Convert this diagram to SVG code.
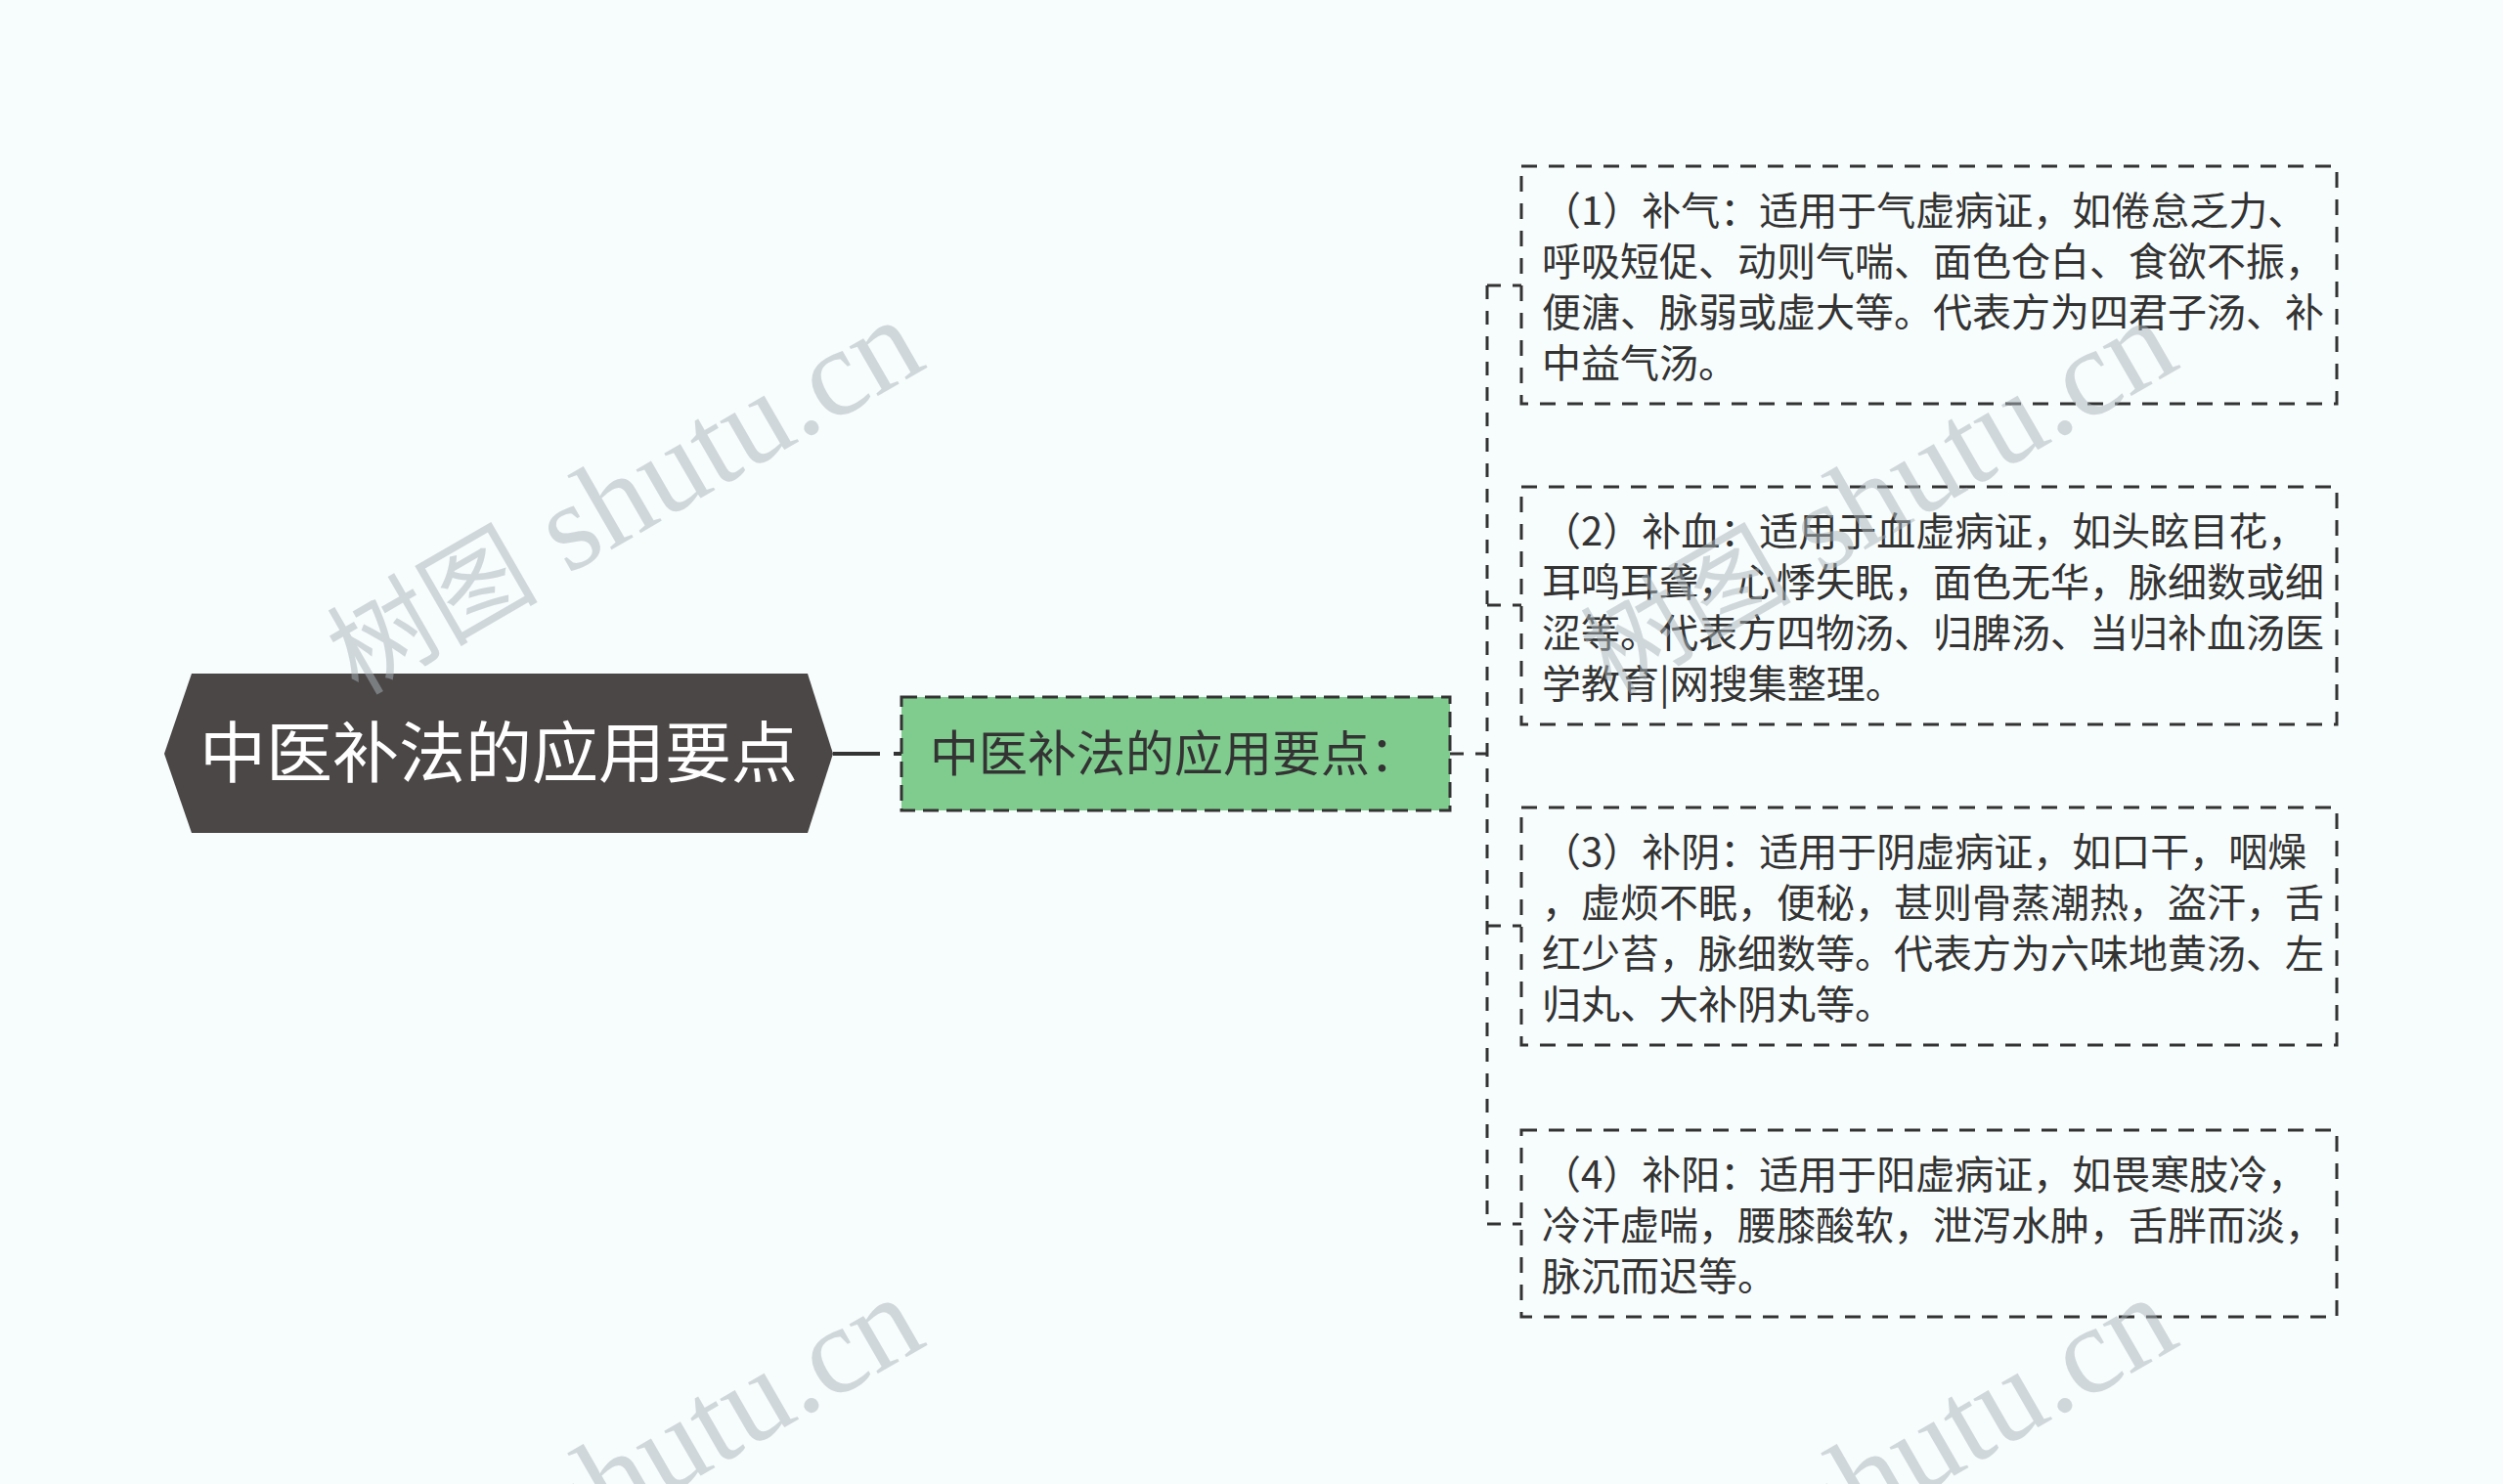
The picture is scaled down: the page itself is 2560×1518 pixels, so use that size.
<svg xmlns="http://www.w3.org/2000/svg" width="2560" height="1518" viewBox="0 0 2560 1518">
<style>
.bg{fill:#f7fcfc}
.root{fill:#4b4747}
.rootText{font-family:"Noto Sans CJK SC","Noto Sans",sans-serif;font-size:68px;fill:#ffffff}
.mid{fill:#80cc8f;stroke:#333333;stroke-width:3;stroke-dasharray:16 8}
.midText{font-family:"Noto Sans CJK SC","Noto Sans",sans-serif;font-size:50px;fill:#333333}
.box{fill:none;stroke:#333333;stroke-width:3;stroke-dasharray:16 12}
.boxText{font-family:"Noto Sans CJK SC","Noto Sans",sans-serif;font-size:40px;fill:#333333}
.conn{fill:none;stroke:#333333;stroke-width:3;stroke-dasharray:14 12}
.wm{font-family:"Liberation Serif","Noto Sans CJK SC",serif;font-size:127px;fill:#aab4b9;opacity:0.5}
.wmc{font-size:108px}
</style>
<rect class="bg" x="0" y="0" width="2560" height="1518"/>
<g id="connectors">
<line x1="852" y1="771" x2="900" y2="771" stroke="#333333" stroke-width="4"/>
<line x1="914" y1="771" x2="922" y2="771" stroke="#333333" stroke-width="4"/>
<line class="conn" x1="1483" y1="771" x2="1521" y2="771"/>
<line class="conn" x1="1521" y1="292" x2="1521" y2="1252"/>
<line class="conn" x1="1521" y1="292" x2="1556" y2="292"/>
<line class="conn" x1="1521" y1="619" x2="1556" y2="619"/>
<line class="conn" x1="1521" y1="947" x2="1556" y2="947"/>
<line class="conn" x1="1521" y1="1252" x2="1556" y2="1252"/>
</g>
<g id="root">
<polygon class="root" points="168,771 196,689 826,689 852,771 826,852 196,852"/>
<text class="rootText" x="510" y="795" text-anchor="middle">中医补法的应用要点</text>
</g>
<g id="mid">
<rect class="mid" x="922" y="713" width="561" height="116"/>
<text class="midText" x="951" y="789">中医补法的应用要点：</text>
</g>
<g id="box1">
<rect class="box" x="1556" y="170" width="834" height="243"/>
<text class="boxText" x="1577" y="230">（1）补气：适用于气虚病证，如倦怠乏力、</text>
<text class="boxText" x="1577" y="282">呼吸短促、动则气喘、面色仓白、食欲不振，</text>
<text class="boxText" x="1577" y="334">便溏、脉弱或虚大等。代表方为四君子汤、补</text>
<text class="boxText" x="1577" y="386">中益气汤。</text>
</g>
<g id="box2">
<rect class="box" x="1556" y="498" width="834" height="243"/>
<text class="boxText" x="1577" y="558">（2）补血：适用于血虚病证，如头眩目花，</text>
<text class="boxText" x="1577" y="610">耳鸣耳聋，心悸失眠，面色无华，脉细数或细</text>
<text class="boxText" x="1577" y="662">涩等。代表方四物汤、归脾汤、当归补血汤医</text>
<text class="boxText" x="1577" y="714">学教育|网搜集整理。</text>
</g>
<g id="box3">
<rect class="box" x="1556" y="826" width="834" height="243"/>
<text class="boxText" x="1577" y="886">（3）补阴：适用于阴虚病证，如口干，咽燥</text>
<text class="boxText" x="1577" y="938">，虚烦不眠，便秘，甚则骨蒸潮热，盗汗，舌</text>
<text class="boxText" x="1577" y="990">红少苔，脉细数等。代表方为六味地黄汤、左</text>
<text class="boxText" x="1577" y="1042">归丸、大补阴丸等。</text>
</g>
<g id="box4">
<rect class="box" x="1556" y="1156" width="834" height="191"/>
<text class="boxText" x="1577" y="1216">（4）补阳：适用于阳虚病证，如畏寒肢冷，</text>
<text class="boxText" x="1577" y="1268">冷汗虚喘，腰膝酸软，泄泻水肿，舌胖而淡，</text>
<text class="boxText" x="1577" y="1320">脉沉而迟等。</text>
</g>
<g id="watermarks">
<text class="wm" transform="translate(366,712) rotate(-30)"><tspan class="wmc">树图</tspan> shutu.cn</text>
<text class="wm" transform="translate(1648,712) rotate(-30)"><tspan class="wmc">树图</tspan> shutu.cn</text>
<text class="wm" transform="translate(366,1712) rotate(-30)"><tspan class="wmc">树图</tspan> shutu.cn</text>
<text class="wm" transform="translate(1648,1712) rotate(-30)"><tspan class="wmc">树图</tspan> shutu.cn</text>
</g>
</svg>
